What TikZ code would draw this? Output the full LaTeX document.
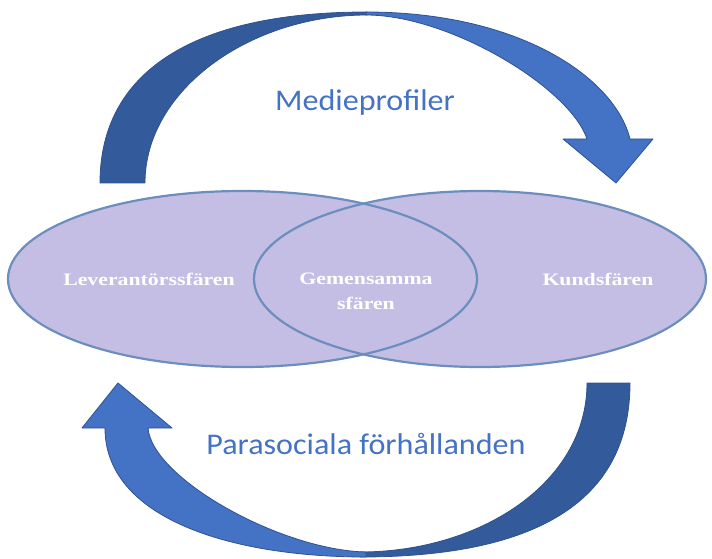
\documentclass[tikz,border=0pt]{standalone}
\usepackage{fontspec}
\setmainfont{Liberation Serif}
\newfontfamily\calfont{Carlito}
\usepackage{xcolor}
\definecolor{bandDark}{RGB}{51,90,154}
\definecolor{bandLight}{RGB}{68,114,196}
\definecolor{bandEdge}{RGB}{47,82,143}
\definecolor{sphereFill}{RGB}{197,190,228}
\definecolor{sphereEdge}{RGB}{108,142,191}

\begin{document}
\begin{tikzpicture}[x=1pt,y=1pt]
\tikzset{sphere/.style={fill=sphereFill},
  sphereline/.style={draw=sphereEdge,line width=2.2pt},
  backband/.style={fill=bandDark,draw=bandEdge,line width=0.8pt,line join=round},
  frontband/.style={fill=bandLight,draw=bandEdge,line width=0.8pt,line join=round},
  spherelabel/.style={font=\fontsize{17.5}{21}\selectfont\bfseries,text=white,xscale=1.245,anchor=base,inner sep=0pt},
  arrowlabel/.style={font=\calfont\fontsize{30}{36}\selectfont,text=bandLight,xscale=1.07,anchor=base,inner sep=0pt}}
\useasboundingbox (0,0) rectangle (712,558);
% upper curved arrow
\fill[backband] (100,375) .. controls (100,486) and (193,546) .. (367,546)
  -- (367,543) .. controls (250,543) and (145,468) .. (145,375) -- cycle;
\fill[frontband] (366,546) .. controls (520,546) and (615,480) .. (630,419)
  -- (653,419) -- (616,375) -- (563,419) -- (587,419)
  .. controls (570,470) and (450,543) .. (366,543) -- cycle;
% lower curved arrow
\fill[backband] (630,175) .. controls (630,55) and (534,1) .. (360,1)
  -- (360,6) .. controls (480,6) and (587,75) .. (587,175) -- cycle;
\fill[frontband] (366,1) .. controls (230,1) and (105,40) .. (105,130)
  -- (82,130) -- (118,175) -- (172,130) -- (148,130)
  .. controls (152,80) and (280,8) .. (366,6) -- cycle;
% the two spheres
\fill[sphere] (242.5,279) ellipse[x radius=234.5,y radius=88];
\fill[sphere] (480,279) ellipse[x radius=226,y radius=88];
\draw[sphereline] (242.5,279) ellipse[x radius=234.5,y radius=88];
\draw[sphereline] (480,279) ellipse[x radius=226,y radius=88];
\node[spherelabel] (lev) at (149,273) {Leverantörssfären};
\node[spherelabel] (kund) at (598,273) {Kundsfären};
\node[spherelabel] (gem) at (366,274) {Gemensamma};
\node[spherelabel] (sfar) at (366,249) {sfären};
\node[arrowlabel] (medie) at (365,447) {Medieprofiler};
\node[arrowlabel] (para) at (366,104) {Parasociala förhållanden};
\end{tikzpicture}
\end{document}
